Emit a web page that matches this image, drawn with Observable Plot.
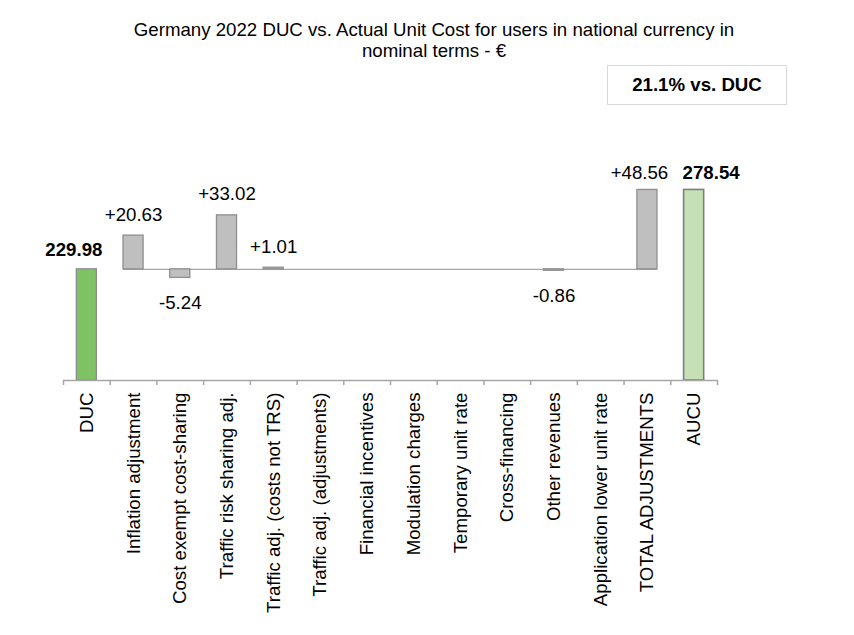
<!DOCTYPE html>
<html><head><meta charset="utf-8">
<script src="https://cdn.jsdelivr.net/npm/d3@7"></script>
<script src="https://cdn.jsdelivr.net/npm/@observablehq/plot@0.6"></script>
<style>
body{margin:0;background:#fff;font-family:"Liberation Sans",Arial,sans-serif;}
#wrap{position:relative;width:854px;height:635px;}
#title{position:absolute;left:0;top:19px;width:868px;text-align:center;font-size:18.67px;line-height:21px;color:#000;}
#box{position:absolute;left:607px;top:65px;width:180px;height:40px;border:1.5px solid #d9d9d9;box-sizing:border-box;display:flex;align-items:center;justify-content:center;font-weight:bold;font-size:18.67px;color:#000;}
#chart{position:absolute;left:0;top:0;}
</style></head>
<body>
<div id="wrap">
  <div id="chart"></div>
  <div id="title">Germany 2022 DUC vs. Actual Unit Cost for users in national currency in<br>nominal terms - €</div>
  <div id="box">21.1% vs. DUC</div>
</div>
<script>
const categories = ["DUC","Inflation adjustment","Cost exempt cost-sharing","Traffic risk sharing adj.","Traffic adj. (costs not TRS)","Traffic adj. (adjustments)","Financial incentives","Modulation charges","Temporary unit rate","Cross-financing","Other revenues","Application lower unit rate","TOTAL ADJUSTMENTS","AUCU"];
const values = [229.98, 20.63, -5.24, 33.02, 1.01, 0, 0, 0, 0, 0, -0.86, 0, 48.56, 278.54];
const kinds = ["start","adj","adj","adj","adj","adj","adj","adj","adj","adj","adj","adj","total","end"];
const yFloor = 162;
const yTop = 321;

const duc = values[0];
const rows = categories.map((c, i) => {
  const k = kinds[i], v = values[i];
  const isAbs = k === "start" || k === "end";
  return {
    cat: c, kind: k, value: v,
    y1: isAbs ? yFloor : duc,
    y2: isAbs ? v : duc + v,
    label: isAbs ? v.toFixed(2) : (v > 0 ? "+" : "") + v.toFixed(2)
  };
});

const W = 854, H = 635, ML = 63, MR = 137, MT = 120, MB = 255;
const step = (W - ML - MR) / categories.length;
const font = 18.67;
const nz = rows.filter(d => d.value !== 0);

const chart = Plot.plot({
  width: W, height: H,
  marginLeft: ML, marginRight: MR, marginTop: MT, marginBottom: MB,
  style: {fontFamily: '"Liberation Sans", Arial, sans-serif', background: "transparent", overflow: "visible"},
  x: {type: "band", domain: categories, paddingInner: 0.57, paddingOuter: 0.285, round: false},
  y: {domain: [yFloor, yTop], axis: null},
  marks: [
    Plot.ruleY([duc], {x1: () => categories[1], x2: () => categories[12], stroke: "#a6a6a6", strokeWidth: 1.3}),
    Plot.barY(nz.filter(d => d.kind === "adj" || d.kind === "total"), {x: "cat", y1: "y1", y2: "y2", fill: "#bfbfbf", stroke: "#8f8f8f", strokeWidth: 1.3}),
    Plot.barY(nz.filter(d => d.kind === "start"), {x: "cat", y1: "y1", y2: "y2", fill: "#7fc265", stroke: "#8c8c8c", strokeWidth: 1.3}),
    Plot.barY(nz.filter(d => d.kind === "end"), {x: "cat", y1: "y1", y2: "y2", fill: "#c5e0b4", stroke: "#7f7f7f", strokeWidth: 1.6}),
    Plot.ruleY([yFloor], {stroke: "#a6a6a6", strokeWidth: 1.5}),
    Plot.axisX({fill: "none", stroke: "#a6a6a6", strokeWidth: 1.5, tickSize: 5, dx: -step / 2, label: null}),
    Plot.axisX([categories[categories.length - 1]], {fill: "none", stroke: "#a6a6a6", strokeWidth: 1.5, tickSize: 5, dx: step / 2, label: null}),
    Plot.axisX({tickSize: 0, tickPadding: 12, tickRotate: -90, fontSize: font, fill: "black", label: null}),
    Plot.text(nz.filter(d => d.kind === "adj" && d.value > 0), {x: "cat", y: "y2", text: "label", dy: -21, fontSize: font, fill: "black"}),
    Plot.text(nz.filter(d => d.kind === "adj" && d.value < 0), {x: "cat", y: "y2", text: "label", dy: 25, fontSize: font, fill: "black"}),
    Plot.text(nz.filter(d => d.kind === "total"), {x: "cat", y: "y2", text: "label", dy: -17, dx: -8, fontSize: font, fill: "black"}),
    Plot.text(nz.filter(d => d.kind === "start"), {x: "cat", y: "y2", text: "label", dy: -19, dx: -13, fontSize: font, fontWeight: "bold", fill: "black"}),
    Plot.text(nz.filter(d => d.kind === "end"), {x: "cat", y: "y2", text: "label", dy: -17, dx: 17, fontSize: font, fontWeight: "bold", fill: "black"})
  ]
});
document.getElementById("chart").appendChild(chart);
</script>
</body></html>
